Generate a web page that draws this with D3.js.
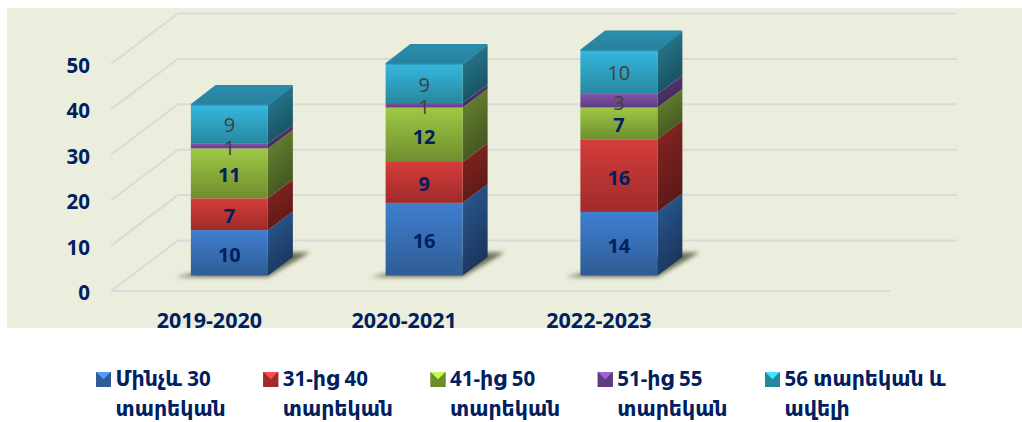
<!DOCTYPE html>
<html><head><meta charset="utf-8">
<script src="https://cdn.jsdelivr.net/npm/d3@7"></script>
<style>html,body{margin:0;padding:0;background:#fff}svg{display:block}
text{font-family:"Open Sans","Noto Sans","DejaVu Sans",sans-serif}</style></head>
<body><svg id="c" width="1022" height="422"></svg>
<script>
const categories = ["2019-2020","2020-2021","2022-2023",""];
const seriesKeys = ["s30","s40","s50","s55","s56"];
const s30 = [10,16,14];
const s40 = [7,9,16];
const s50 = [11,12,7];
const s55 = [1,1,3];
const s56 = [9,9,10];
const seriesValues = [s30,s40,s50,s55,s56];
const legendLines = [["Մինչև 30","տարեկան"],["31-ից 40","տարեկան"],["41-ից 50","տարեկան"],["51-ից 55","տարեկան"],["56 տարեկան և","ավելի"]];
const yTicks = [0,10,20,30,40,50];
// front-top, front-bottom, side-top, side-bottom
const palette = [
 ["#3f7fd0","#2f5c94","#2a5c96","#1b365c"],
 ["#d43d3b","#9f2b2a","#8a2523","#5c1917"],
 ["#9fc945","#6f8d2e","#6c8932","#435620"],
 ["#8352ab","#5f3c80","#5e3b7e","#3d2753"],
 ["#35b8df","#28879f","#2b7f99","#17505f"]
];
const navy = "#002060", grey = "#404040";
const labelGrey = [[0,0,0],[0,0,0],[0,0,0],[1,1,1],[1,1,1]];
const svg = d3.select("#c");
const defs = svg.append("defs");
palette.forEach((p,i)=>{
  const f = defs.append("linearGradient").attr("id","f"+i).attr("x1",0).attr("y1",0).attr("x2",0).attr("y2",1);
  f.append("stop").attr("offset","0").attr("stop-color",p[0]);
  f.append("stop").attr("offset","1").attr("stop-color",p[1]);
  const s = defs.append("linearGradient").attr("id","s"+i).attr("x1",0).attr("y1",0).attr("x2",0.35).attr("y2",1);
  s.append("stop").attr("offset","0").attr("stop-color",p[2]);
  s.append("stop").attr("offset","1").attr("stop-color",p[3]);
});
const tg = defs.append("linearGradient").attr("id","top").attr("x1",0).attr("y1",0).attr("x2",0).attr("y2",1);
tg.append("stop").attr("offset","0").attr("stop-color","#2b8fae");
tg.append("stop").attr("offset","1").attr("stop-color","#27809b");
defs.append("filter").attr("id","blur").attr("x","-20%").attr("y","-50%").attr("width","140%").attr("height","200%")
  .append("feGaussianBlur").attr("stdDeviation",2.2);

svg.append("rect").attr("x",7).attr("y",8).attr("width",1015).attr("height",320).attr("fill","#ebeedd");

const y = d3.scaleLinear().domain([0,50]).range([291,64]);
const xFloor = d3.scaleBand().domain(categories).range([111,890]);
const depthX = 67, depthY = -50.5;
const barW = 77, sideX = 25, sideY = -18.5, baseLift = 15.5, capInset = 1.5;

// gridlines
const grid = svg.append("g").attr("fill","none").attr("stroke","#d9dbd9").attr("stroke-width",2);
grid.selectAll("path").data(yTicks).join("path")
  .attr("d",d=>d3.line()([[111,y(d)],[111+depthX,y(d)+depthY],[111+depthX+779,y(d)+depthY]]));
grid.append("path").attr("d",d3.line()([[111,y(0)],[890,y(0)]]));

// y axis labels
const yAxis = svg.append("g").attr("transform","translate(90,2)")
  .call(d3.axisLeft(y).tickValues(yTicks).tickSize(0).tickPadding(0).tickFormat(d3.format("d")));
yAxis.select(".domain").remove();
yAxis.selectAll("text").attr("fill",navy).attr("font-size",20.5).attr("font-weight",700)
  .attr("font-family",'"Open Sans",sans-serif');

// x axis labels
const xAxis = svg.append("g").attr("transform","translate(1,313)")
  .call(d3.axisBottom(xFloor).tickSize(0).tickPadding(0));
xAxis.select(".domain").remove();
xAxis.selectAll("text").attr("fill",navy).attr("font-size",21.5).attr("font-weight",700)
  .attr("font-family",'"Open Sans",sans-serif');

// bars
const barLeft = c => xFloor(c)+xFloor.bandwidth()/2+21-barW/2;
const h = d => y(0)-y(d);
const yBar = v => y(0)-baseLift-h(v);
categories.slice(0,3).forEach((c,ci)=>{
  const x0 = barLeft(c), x1 = x0+barW;
  const g = svg.append("g");
  g.append("path").attr("filter","url(#blur)").attr("fill","#4d4d38").attr("opacity",0.8)
    .attr("d",d3.line()([[x0-15,yBar(0)+1.5],[x1,yBar(0)+1.5],[x1+42,yBar(0)-23],[x1+20,yBar(0)-23]])+"Z");
  const total = d3.sum(seriesValues,v=>v[ci]);
  const topY = yBar(total)+capInset;
  let acc = 0;
  seriesValues.forEach((vals,si)=>{
    const a = acc, b = acc+vals[ci]; acc = b;
    const yb = b===total ? topY : yBar(b);
    g.append("path").attr("fill",`url(#s${si})`)
      .attr("d",d3.line()([[x1,yBar(a)],[x1+sideX,yBar(a)+sideY],[x1+sideX,yb+sideY],[x1,yb]])+"Z");
    g.append("rect").attr("x",x0).attr("y",yb).attr("width",barW).attr("height",yBar(a)-yb)
      .attr("fill",`url(#f${si})`);
  });
  g.append("path").attr("fill","url(#top)").attr("stroke","#2a8aa8").attr("stroke-width",2).attr("stroke-linejoin","round")
    .attr("d",d3.line()([[x0+1,topY],[x1,topY],[x1+sideX-1,topY+sideY],[x0+sideX,topY+sideY]])+"Z");
  acc = 0;
  seriesValues.forEach((vals,si)=>{
    const a = acc, b = acc+vals[ci]; acc = b;
    const isGrey = labelGrey[si][ci];
    g.append("text").attr("x",(x0+x1)/2).attr("y",(yBar(a)+yBar(b))/2+2).attr("dy","0.35em")
      .attr("text-anchor","middle").attr("font-size",20)
      .attr("font-weight",isGrey?400:700).attr("fill",isGrey?grey:navy).text(vals[ci]);
  });
});

// legend
const legendX = d3.scalePoint().domain(seriesKeys).range([96,765]);
const leg = svg.append("g").selectAll("g").data(seriesKeys).join("g")
  .attr("transform",d=>`translate(${legendX(d)},372)`);
leg.append("rect").attr("width",15).attr("height",15).attr("fill",(d,i)=>palette[i][1]);
leg.append("path").attr("d",d3.line()([[0,0],[15,0],[7.5,7.5]])+"Z").attr("fill",(d,i)=>d3.color(palette[i][0]).brighter(0.6));
leg.append("path").attr("d",d3.line()([[0,0],[7.5,7.5],[0,15]])+"Z").attr("fill",(d,i)=>palette[i][1]);
leg.append("path").attr("d",d3.line()([[15,0],[7.5,7.5],[15,15]])+"Z").attr("fill",(d,i)=>palette[i][1]);
leg.each(function(d,i){
  const t = d3.select(this).append("text").attr("fill",navy).attr("font-size",20.5).attr("font-weight",700);
  legendLines[i].forEach((l,j)=>t.append("tspan").attr("x",19.5).attr("y",14+j*30).text(l));
});
</script></body></html>
